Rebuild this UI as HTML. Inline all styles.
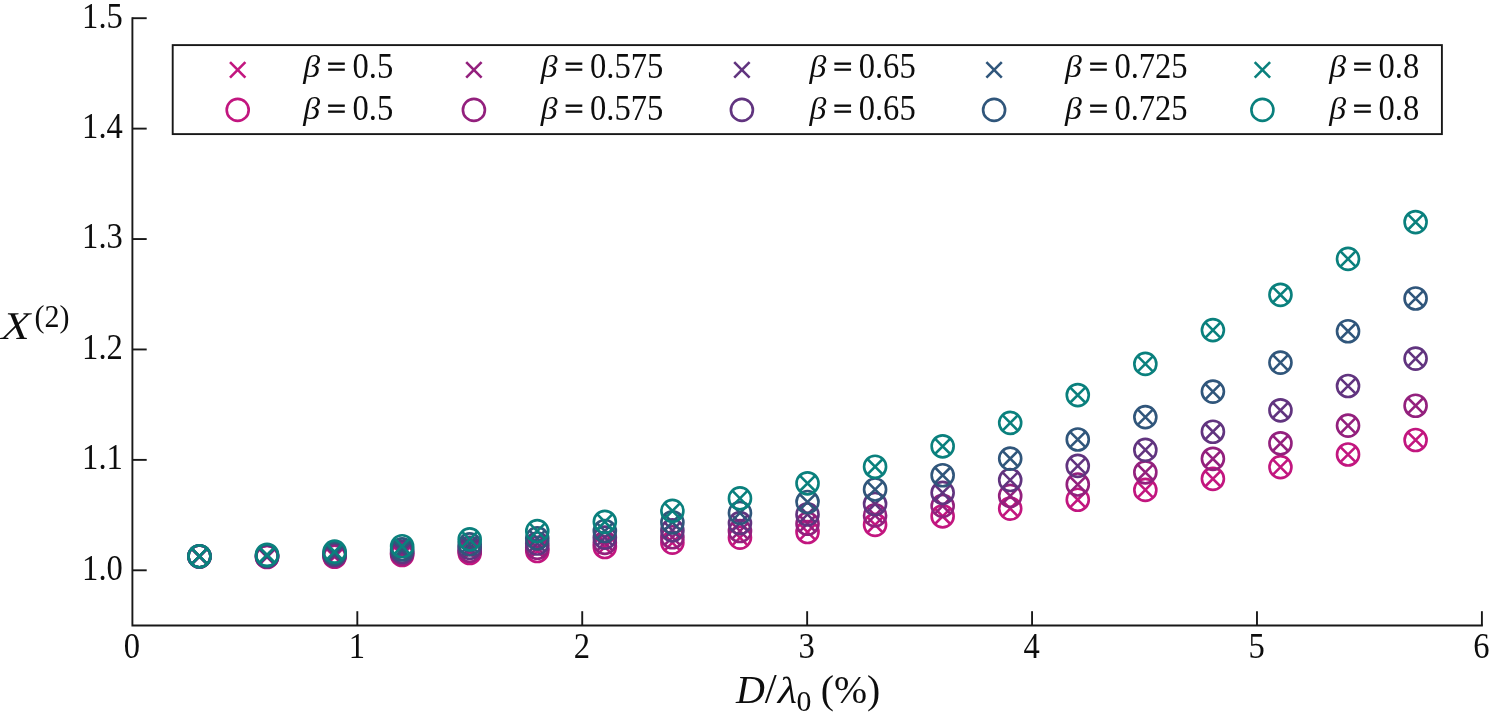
<!DOCTYPE html>
<html lang="en"><head><meta charset="utf-8"><title>X(2) versus D/λ0</title>
<style>
html,body{margin:0;padding:0;background:#fff;}
body{width:1490px;height:723px;overflow:hidden;}
svg{display:block;}
text{font-family:"Liberation Serif", serif;fill:#0d0d0d;}
</style></head><body>
<svg width="1490" height="723" viewBox="0 0 1490 723">
<rect width="1490" height="723" fill="#fff"/>
<g stroke="#181818" stroke-width="1.9" fill="none" stroke-linecap="butt">
<path d="M132.4 17.25V625.5H1482.85"/>
<path d="M132.4 18.20h14.3"/>
<path d="M132.4 128.62h14.3"/>
<path d="M132.4 239.04h14.3"/>
<path d="M132.4 349.46h14.3"/>
<path d="M132.4 459.88h14.3"/>
<path d="M132.4 570.30h14.3"/>
<path d="M357.32 625.5v-14.3"/>
<path d="M582.23 625.5v-14.3"/>
<path d="M807.15 625.5v-14.3"/>
<path d="M1032.07 625.5v-14.3"/>
<path d="M1256.98 625.5v-14.3"/>
<path d="M1481.90 625.5v-14.3"/>
</g>
<text transform="translate(122.80 27.60) scale(0.936 1)" font-size="34.8" text-anchor="end">1.5</text>
<text transform="translate(122.80 138.02) scale(0.936 1)" font-size="34.8" text-anchor="end">1.4</text>
<text transform="translate(122.80 248.44) scale(0.936 1)" font-size="34.8" text-anchor="end">1.3</text>
<text transform="translate(122.80 358.86) scale(0.936 1)" font-size="34.8" text-anchor="end">1.2</text>
<text transform="translate(122.80 469.28) scale(0.936 1)" font-size="34.8" text-anchor="end">1.1</text>
<text transform="translate(122.80 579.70) scale(0.936 1)" font-size="34.8" text-anchor="end">1.0</text>
<text transform="translate(132.00 658.40) scale(0.936 1)" font-size="34.8" text-anchor="middle">0</text>
<text transform="translate(356.92 658.40) scale(0.936 1)" font-size="34.8" text-anchor="middle">1</text>
<text transform="translate(581.83 658.40) scale(0.936 1)" font-size="34.8" text-anchor="middle">2</text>
<text transform="translate(806.75 658.40) scale(0.936 1)" font-size="34.8" text-anchor="middle">3</text>
<text transform="translate(1031.67 658.40) scale(0.936 1)" font-size="34.8" text-anchor="middle">4</text>
<text transform="translate(1256.58 658.40) scale(0.936 1)" font-size="34.8" text-anchor="middle">5</text>
<text transform="translate(1481.50 658.40) scale(0.936 1)" font-size="34.8" text-anchor="middle">6</text>
<text transform="translate(-0.9 339.4) skewX(-15)" font-size="39.4">X</text>
<text transform="translate(34.60 326.80) scale(0.985 1)" font-size="30.5">(2)</text>
<text transform="translate(736.00 702.60) scale(1.0 1)" font-size="40" font-style="italic">D</text>
<text transform="translate(764.8 702.9)" font-size="43">/</text>
<text transform="translate(775.6 702.6) skewX(-12) scale(1.12 1)" font-size="37.5">λ</text>
<text transform="translate(796.40 711.40) scale(1.0 1)" font-size="29.8">0</text>
<text transform="translate(820.80 702.60) scale(0.98 1)" font-size="40.5">(%)</text>
<rect x="172.7" y="45.1" width="1269.2" height="89.0" fill="#fff" stroke="#181818" stroke-width="1.9"/>
<path d="M230.00 62.20L245.40 77.60M230.00 77.60L245.40 62.20" stroke="#C2167F" stroke-width="2.6" fill="none"/>
<circle cx="237.70" cy="109.90" r="11.0" stroke="#C2167F" stroke-width="2.65" fill="none"/>
<text transform="translate(303.20 76.90) scale(1.09 1)" font-size="31" font-style="italic">β</text>
<text transform="translate(327.10 76.00) scale(1.24 1)" font-size="27" stroke="#0d0d0d" stroke-width="0.9">=</text>
<text transform="translate(352.50 78.00) scale(0.936 1)" font-size="34.8">0.5</text>
<text transform="translate(303.20 118.60) scale(1.09 1)" font-size="31" font-style="italic">β</text>
<text transform="translate(327.10 117.70) scale(1.24 1)" font-size="27" stroke="#0d0d0d" stroke-width="0.9">=</text>
<text transform="translate(352.50 119.70) scale(0.936 1)" font-size="34.8">0.5</text>
<path d="M466.20 62.20L481.60 77.60M466.20 77.60L481.60 62.20" stroke="#93207D" stroke-width="2.6" fill="none"/>
<circle cx="473.90" cy="109.90" r="11.0" stroke="#93207D" stroke-width="2.65" fill="none"/>
<text transform="translate(540.70 76.90) scale(1.09 1)" font-size="31" font-style="italic">β</text>
<text transform="translate(564.60 76.00) scale(1.24 1)" font-size="27" stroke="#0d0d0d" stroke-width="0.9">=</text>
<text transform="translate(590.00 78.00) scale(0.936 1)" font-size="34.8">0.575</text>
<text transform="translate(540.70 118.60) scale(1.09 1)" font-size="31" font-style="italic">β</text>
<text transform="translate(564.60 117.70) scale(1.24 1)" font-size="27" stroke="#0d0d0d" stroke-width="0.9">=</text>
<text transform="translate(590.00 119.70) scale(0.936 1)" font-size="34.8">0.575</text>
<path d="M734.20 62.20L749.60 77.60M734.20 77.60L749.60 62.20" stroke="#61347F" stroke-width="2.6" fill="none"/>
<circle cx="741.90" cy="109.90" r="11.0" stroke="#61347F" stroke-width="2.65" fill="none"/>
<text transform="translate(809.40 76.90) scale(1.09 1)" font-size="31" font-style="italic">β</text>
<text transform="translate(833.30 76.00) scale(1.24 1)" font-size="27" stroke="#0d0d0d" stroke-width="0.9">=</text>
<text transform="translate(858.70 78.00) scale(0.936 1)" font-size="34.8">0.65</text>
<text transform="translate(809.40 118.60) scale(1.09 1)" font-size="31" font-style="italic">β</text>
<text transform="translate(833.30 117.70) scale(1.24 1)" font-size="27" stroke="#0d0d0d" stroke-width="0.9">=</text>
<text transform="translate(858.70 119.70) scale(0.936 1)" font-size="34.8">0.65</text>
<path d="M986.40 62.20L1001.80 77.60M986.40 77.60L1001.80 62.20" stroke="#30567B" stroke-width="2.6" fill="none"/>
<circle cx="994.10" cy="109.90" r="11.0" stroke="#30567B" stroke-width="2.65" fill="none"/>
<text transform="translate(1065.10 76.90) scale(1.09 1)" font-size="31" font-style="italic">β</text>
<text transform="translate(1089.00 76.00) scale(1.24 1)" font-size="27" stroke="#0d0d0d" stroke-width="0.9">=</text>
<text transform="translate(1114.40 78.00) scale(0.936 1)" font-size="34.8">0.725</text>
<text transform="translate(1065.10 118.60) scale(1.09 1)" font-size="31" font-style="italic">β</text>
<text transform="translate(1089.00 117.70) scale(1.24 1)" font-size="27" stroke="#0d0d0d" stroke-width="0.9">=</text>
<text transform="translate(1114.40 119.70) scale(0.936 1)" font-size="34.8">0.725</text>
<path d="M1254.70 62.20L1270.10 77.60M1254.70 77.60L1270.10 62.20" stroke="#0A807D" stroke-width="2.6" fill="none"/>
<circle cx="1262.40" cy="109.90" r="11.0" stroke="#0A807D" stroke-width="2.65" fill="none"/>
<text transform="translate(1329.20 76.90) scale(1.09 1)" font-size="31" font-style="italic">β</text>
<text transform="translate(1353.10 76.00) scale(1.24 1)" font-size="27" stroke="#0d0d0d" stroke-width="0.9">=</text>
<text transform="translate(1378.50 78.00) scale(0.936 1)" font-size="34.8">0.8</text>
<text transform="translate(1329.20 118.60) scale(1.09 1)" font-size="31" font-style="italic">β</text>
<text transform="translate(1353.10 117.70) scale(1.24 1)" font-size="27" stroke="#0d0d0d" stroke-width="0.9">=</text>
<text transform="translate(1378.50 119.70) scale(0.936 1)" font-size="34.8">0.8</text>
<path d="M191.75 548.80L207.15 564.20M191.75 564.20L207.15 548.80" stroke="#C2167F" stroke-width="2.6" fill="none"/>
<path d="M259.32 549.30L274.72 564.70M259.32 564.70L274.72 549.30" stroke="#C2167F" stroke-width="2.6" fill="none"/>
<path d="M326.88 549.00L342.28 564.40M326.88 564.40L342.28 549.00" stroke="#C2167F" stroke-width="2.6" fill="none"/>
<path d="M394.44 547.30L409.84 562.70M394.44 562.70L409.84 547.30" stroke="#C2167F" stroke-width="2.6" fill="none"/>
<path d="M462.00 545.30L477.40 560.70M462.00 560.70L477.40 545.30" stroke="#C2167F" stroke-width="2.6" fill="none"/>
<path d="M529.57 543.30L544.97 558.70M529.57 558.70L544.97 543.30" stroke="#C2167F" stroke-width="2.6" fill="none"/>
<path d="M597.13 539.30L612.53 554.70M597.13 554.70L612.53 539.30" stroke="#C2167F" stroke-width="2.6" fill="none"/>
<path d="M664.69 534.90L680.09 550.30M664.69 550.30L680.09 534.90" stroke="#C2167F" stroke-width="2.6" fill="none"/>
<path d="M732.26 529.90L747.66 545.30M732.26 545.30L747.66 529.90" stroke="#C2167F" stroke-width="2.6" fill="none"/>
<path d="M799.82 524.30L815.22 539.70M799.82 539.70L815.22 524.30" stroke="#C2167F" stroke-width="2.6" fill="none"/>
<path d="M867.38 517.10L882.78 532.50M867.38 532.50L882.78 517.10" stroke="#C2167F" stroke-width="2.6" fill="none"/>
<path d="M934.95 508.60L950.35 524.00M934.95 524.00L950.35 508.60" stroke="#C2167F" stroke-width="2.6" fill="none"/>
<path d="M1002.51 500.90L1017.91 516.30M1002.51 516.30L1017.91 500.90" stroke="#C2167F" stroke-width="2.6" fill="none"/>
<path d="M1070.07 492.00L1085.47 507.40M1070.07 507.40L1085.47 492.00" stroke="#C2167F" stroke-width="2.6" fill="none"/>
<path d="M1137.63 482.20L1153.04 497.60M1137.63 497.60L1153.04 482.20" stroke="#C2167F" stroke-width="2.6" fill="none"/>
<path d="M1205.20 471.10L1220.60 486.50M1205.20 486.50L1220.60 471.10" stroke="#C2167F" stroke-width="2.6" fill="none"/>
<path d="M1272.76 459.40L1288.16 474.80M1272.76 474.80L1288.16 459.40" stroke="#C2167F" stroke-width="2.6" fill="none"/>
<path d="M1340.32 446.80L1355.72 462.20M1340.32 462.20L1355.72 446.80" stroke="#C2167F" stroke-width="2.6" fill="none"/>
<path d="M1407.89 432.30L1423.29 447.70M1407.89 447.70L1423.29 432.30" stroke="#C2167F" stroke-width="2.6" fill="none"/>
<circle cx="199.45" cy="556.50" r="11.0" stroke="#C2167F" stroke-width="2.65" fill="none"/>
<circle cx="267.02" cy="557.00" r="11.0" stroke="#C2167F" stroke-width="2.65" fill="none"/>
<circle cx="334.58" cy="556.70" r="11.0" stroke="#C2167F" stroke-width="2.65" fill="none"/>
<circle cx="402.14" cy="555.00" r="11.0" stroke="#C2167F" stroke-width="2.65" fill="none"/>
<circle cx="469.70" cy="553.00" r="11.0" stroke="#C2167F" stroke-width="2.65" fill="none"/>
<circle cx="537.27" cy="551.00" r="11.0" stroke="#C2167F" stroke-width="2.65" fill="none"/>
<circle cx="604.83" cy="547.00" r="11.0" stroke="#C2167F" stroke-width="2.65" fill="none"/>
<circle cx="672.39" cy="542.60" r="11.0" stroke="#C2167F" stroke-width="2.65" fill="none"/>
<circle cx="739.96" cy="537.60" r="11.0" stroke="#C2167F" stroke-width="2.65" fill="none"/>
<circle cx="807.52" cy="532.00" r="11.0" stroke="#C2167F" stroke-width="2.65" fill="none"/>
<circle cx="875.08" cy="524.80" r="11.0" stroke="#C2167F" stroke-width="2.65" fill="none"/>
<circle cx="942.65" cy="516.30" r="11.0" stroke="#C2167F" stroke-width="2.65" fill="none"/>
<circle cx="1010.21" cy="508.60" r="11.0" stroke="#C2167F" stroke-width="2.65" fill="none"/>
<circle cx="1077.77" cy="499.70" r="11.0" stroke="#C2167F" stroke-width="2.65" fill="none"/>
<circle cx="1145.34" cy="489.90" r="11.0" stroke="#C2167F" stroke-width="2.65" fill="none"/>
<circle cx="1212.90" cy="478.80" r="11.0" stroke="#C2167F" stroke-width="2.65" fill="none"/>
<circle cx="1280.46" cy="467.10" r="11.0" stroke="#C2167F" stroke-width="2.65" fill="none"/>
<circle cx="1348.02" cy="454.50" r="11.0" stroke="#C2167F" stroke-width="2.65" fill="none"/>
<circle cx="1415.59" cy="440.00" r="11.0" stroke="#C2167F" stroke-width="2.65" fill="none"/>
<path d="M191.75 548.75L207.15 564.15M191.75 564.15L207.15 548.75" stroke="#93207D" stroke-width="2.6" fill="none"/>
<path d="M259.32 548.94L274.72 564.34M259.32 564.34L274.72 548.94" stroke="#93207D" stroke-width="2.6" fill="none"/>
<path d="M326.88 548.16L342.28 563.56M326.88 563.56L342.28 548.16" stroke="#93207D" stroke-width="2.6" fill="none"/>
<path d="M394.44 545.85L409.84 561.25M394.44 561.25L409.84 545.85" stroke="#93207D" stroke-width="2.6" fill="none"/>
<path d="M462.00 543.06L477.40 558.46M462.00 558.46L477.40 543.06" stroke="#93207D" stroke-width="2.6" fill="none"/>
<path d="M529.57 540.02L544.97 555.42M529.57 555.42L544.97 540.02" stroke="#93207D" stroke-width="2.6" fill="none"/>
<path d="M597.13 535.14L612.53 550.54M597.13 550.54L612.53 535.14" stroke="#93207D" stroke-width="2.6" fill="none"/>
<path d="M664.69 529.50L680.09 544.90M664.69 544.90L680.09 529.50" stroke="#93207D" stroke-width="2.6" fill="none"/>
<path d="M732.26 523.30L747.66 538.70M732.26 538.70L747.66 523.30" stroke="#93207D" stroke-width="2.6" fill="none"/>
<path d="M799.82 516.00L815.22 531.40M799.82 531.40L815.22 516.00" stroke="#93207D" stroke-width="2.6" fill="none"/>
<path d="M867.38 507.70L882.78 523.10M867.38 523.10L882.78 507.70" stroke="#93207D" stroke-width="2.6" fill="none"/>
<path d="M934.95 498.20L950.35 513.60M934.95 513.60L950.35 498.20" stroke="#93207D" stroke-width="2.6" fill="none"/>
<path d="M1002.51 488.20L1017.91 503.60M1002.51 503.60L1017.91 488.20" stroke="#93207D" stroke-width="2.6" fill="none"/>
<path d="M1070.07 476.80L1085.47 492.20M1070.07 492.20L1085.47 476.80" stroke="#93207D" stroke-width="2.6" fill="none"/>
<path d="M1137.63 464.60L1153.04 480.00M1137.63 480.00L1153.04 464.60" stroke="#93207D" stroke-width="2.6" fill="none"/>
<path d="M1205.20 451.10L1220.60 466.50M1205.20 466.50L1220.60 451.10" stroke="#93207D" stroke-width="2.6" fill="none"/>
<path d="M1272.76 435.60L1288.16 451.00M1272.76 451.00L1288.16 435.60" stroke="#93207D" stroke-width="2.6" fill="none"/>
<path d="M1340.32 417.90L1355.72 433.30M1340.32 433.30L1355.72 417.90" stroke="#93207D" stroke-width="2.6" fill="none"/>
<path d="M1407.89 398.00L1423.29 413.40M1407.89 413.40L1423.29 398.00" stroke="#93207D" stroke-width="2.6" fill="none"/>
<circle cx="199.45" cy="556.45" r="11.0" stroke="#93207D" stroke-width="2.65" fill="none"/>
<circle cx="267.02" cy="556.64" r="11.0" stroke="#93207D" stroke-width="2.65" fill="none"/>
<circle cx="334.58" cy="555.86" r="11.0" stroke="#93207D" stroke-width="2.65" fill="none"/>
<circle cx="402.14" cy="553.55" r="11.0" stroke="#93207D" stroke-width="2.65" fill="none"/>
<circle cx="469.70" cy="550.76" r="11.0" stroke="#93207D" stroke-width="2.65" fill="none"/>
<circle cx="537.27" cy="547.72" r="11.0" stroke="#93207D" stroke-width="2.65" fill="none"/>
<circle cx="604.83" cy="542.84" r="11.0" stroke="#93207D" stroke-width="2.65" fill="none"/>
<circle cx="672.39" cy="537.20" r="11.0" stroke="#93207D" stroke-width="2.65" fill="none"/>
<circle cx="739.96" cy="531.00" r="11.0" stroke="#93207D" stroke-width="2.65" fill="none"/>
<circle cx="807.52" cy="523.70" r="11.0" stroke="#93207D" stroke-width="2.65" fill="none"/>
<circle cx="875.08" cy="515.40" r="11.0" stroke="#93207D" stroke-width="2.65" fill="none"/>
<circle cx="942.65" cy="505.90" r="11.0" stroke="#93207D" stroke-width="2.65" fill="none"/>
<circle cx="1010.21" cy="495.90" r="11.0" stroke="#93207D" stroke-width="2.65" fill="none"/>
<circle cx="1077.77" cy="484.50" r="11.0" stroke="#93207D" stroke-width="2.65" fill="none"/>
<circle cx="1145.34" cy="472.30" r="11.0" stroke="#93207D" stroke-width="2.65" fill="none"/>
<circle cx="1212.90" cy="458.80" r="11.0" stroke="#93207D" stroke-width="2.65" fill="none"/>
<circle cx="1280.46" cy="443.30" r="11.0" stroke="#93207D" stroke-width="2.65" fill="none"/>
<circle cx="1348.02" cy="425.60" r="11.0" stroke="#93207D" stroke-width="2.65" fill="none"/>
<circle cx="1415.59" cy="405.70" r="11.0" stroke="#93207D" stroke-width="2.65" fill="none"/>
<path d="M191.75 548.69L207.15 564.09M191.75 564.09L207.15 548.69" stroke="#61347F" stroke-width="2.6" fill="none"/>
<path d="M259.32 548.47L274.72 563.88M259.32 563.88L274.72 548.47" stroke="#61347F" stroke-width="2.6" fill="none"/>
<path d="M326.88 547.09L342.28 562.49M326.88 562.49L342.28 547.09" stroke="#61347F" stroke-width="2.6" fill="none"/>
<path d="M394.44 544.00L409.84 559.40M394.44 559.40L409.84 544.00" stroke="#61347F" stroke-width="2.6" fill="none"/>
<path d="M462.00 540.20L477.40 555.60M462.00 555.60L477.40 540.20" stroke="#61347F" stroke-width="2.6" fill="none"/>
<path d="M529.57 535.84L544.97 551.24M529.57 551.24L544.97 535.84" stroke="#61347F" stroke-width="2.6" fill="none"/>
<path d="M597.13 529.85L612.53 545.25M597.13 545.25L612.53 529.85" stroke="#61347F" stroke-width="2.6" fill="none"/>
<path d="M664.69 522.70L680.09 538.10M664.69 538.10L680.09 522.70" stroke="#61347F" stroke-width="2.6" fill="none"/>
<path d="M732.26 515.40L747.66 530.80M732.26 530.80L747.66 515.40" stroke="#61347F" stroke-width="2.6" fill="none"/>
<path d="M799.82 506.70L815.22 522.10M799.82 522.10L815.22 506.70" stroke="#61347F" stroke-width="2.6" fill="none"/>
<path d="M867.38 496.30L882.78 511.70M867.38 511.70L882.78 496.30" stroke="#61347F" stroke-width="2.6" fill="none"/>
<path d="M934.95 485.10L950.35 500.50M934.95 500.50L950.35 485.10" stroke="#61347F" stroke-width="2.6" fill="none"/>
<path d="M1002.51 472.30L1017.91 487.70M1002.51 487.70L1017.91 472.30" stroke="#61347F" stroke-width="2.6" fill="none"/>
<path d="M1070.07 458.20L1085.47 473.60M1070.07 473.60L1085.47 458.20" stroke="#61347F" stroke-width="2.6" fill="none"/>
<path d="M1137.63 442.20L1153.04 457.60M1137.63 457.60L1153.04 442.20" stroke="#61347F" stroke-width="2.6" fill="none"/>
<path d="M1205.20 424.00L1220.60 439.40M1205.20 439.40L1220.60 424.00" stroke="#61347F" stroke-width="2.6" fill="none"/>
<path d="M1272.76 402.60L1288.16 418.00M1272.76 418.00L1288.16 402.60" stroke="#61347F" stroke-width="2.6" fill="none"/>
<path d="M1340.32 378.30L1355.72 393.70M1340.32 393.70L1355.72 378.30" stroke="#61347F" stroke-width="2.6" fill="none"/>
<path d="M1407.89 350.90L1423.29 366.30M1407.89 366.30L1423.29 350.90" stroke="#61347F" stroke-width="2.6" fill="none"/>
<circle cx="199.45" cy="556.39" r="11.0" stroke="#61347F" stroke-width="2.65" fill="none"/>
<circle cx="267.02" cy="556.17" r="11.0" stroke="#61347F" stroke-width="2.65" fill="none"/>
<circle cx="334.58" cy="554.79" r="11.0" stroke="#61347F" stroke-width="2.65" fill="none"/>
<circle cx="402.14" cy="551.70" r="11.0" stroke="#61347F" stroke-width="2.65" fill="none"/>
<circle cx="469.70" cy="547.90" r="11.0" stroke="#61347F" stroke-width="2.65" fill="none"/>
<circle cx="537.27" cy="543.54" r="11.0" stroke="#61347F" stroke-width="2.65" fill="none"/>
<circle cx="604.83" cy="537.55" r="11.0" stroke="#61347F" stroke-width="2.65" fill="none"/>
<circle cx="672.39" cy="530.40" r="11.0" stroke="#61347F" stroke-width="2.65" fill="none"/>
<circle cx="739.96" cy="523.10" r="11.0" stroke="#61347F" stroke-width="2.65" fill="none"/>
<circle cx="807.52" cy="514.40" r="11.0" stroke="#61347F" stroke-width="2.65" fill="none"/>
<circle cx="875.08" cy="504.00" r="11.0" stroke="#61347F" stroke-width="2.65" fill="none"/>
<circle cx="942.65" cy="492.80" r="11.0" stroke="#61347F" stroke-width="2.65" fill="none"/>
<circle cx="1010.21" cy="480.00" r="11.0" stroke="#61347F" stroke-width="2.65" fill="none"/>
<circle cx="1077.77" cy="465.90" r="11.0" stroke="#61347F" stroke-width="2.65" fill="none"/>
<circle cx="1145.34" cy="449.90" r="11.0" stroke="#61347F" stroke-width="2.65" fill="none"/>
<circle cx="1212.90" cy="431.70" r="11.0" stroke="#61347F" stroke-width="2.65" fill="none"/>
<circle cx="1280.46" cy="410.30" r="11.0" stroke="#61347F" stroke-width="2.65" fill="none"/>
<circle cx="1348.02" cy="386.00" r="11.0" stroke="#61347F" stroke-width="2.65" fill="none"/>
<circle cx="1415.59" cy="358.60" r="11.0" stroke="#61347F" stroke-width="2.65" fill="none"/>
<path d="M191.75 548.61L207.15 564.01M191.75 564.01L207.15 548.61" stroke="#30567B" stroke-width="2.6" fill="none"/>
<path d="M259.32 547.90L274.72 563.30M259.32 563.30L274.72 547.90" stroke="#30567B" stroke-width="2.6" fill="none"/>
<path d="M326.88 545.76L342.28 561.16M326.88 561.16L342.28 545.76" stroke="#30567B" stroke-width="2.6" fill="none"/>
<path d="M394.44 541.71L409.84 557.11M394.44 557.11L409.84 541.71" stroke="#30567B" stroke-width="2.6" fill="none"/>
<path d="M462.00 536.66L477.40 552.06M462.00 552.06L477.40 536.66" stroke="#30567B" stroke-width="2.6" fill="none"/>
<path d="M529.57 530.66L544.97 546.06M529.57 546.06L544.97 530.66" stroke="#30567B" stroke-width="2.6" fill="none"/>
<path d="M597.13 523.30L612.53 538.70M597.13 538.70L612.53 523.30" stroke="#30567B" stroke-width="2.6" fill="none"/>
<path d="M664.69 514.60L680.09 530.00M664.69 530.00L680.09 514.60" stroke="#30567B" stroke-width="2.6" fill="none"/>
<path d="M732.26 505.20L747.66 520.60M732.26 520.60L747.66 505.20" stroke="#30567B" stroke-width="2.6" fill="none"/>
<path d="M799.82 494.30L815.22 509.70M799.82 509.70L815.22 494.30" stroke="#30567B" stroke-width="2.6" fill="none"/>
<path d="M867.38 481.80L882.78 497.20M867.38 497.20L882.78 481.80" stroke="#30567B" stroke-width="2.6" fill="none"/>
<path d="M934.95 467.50L950.35 482.90M934.95 482.90L950.35 467.50" stroke="#30567B" stroke-width="2.6" fill="none"/>
<path d="M1002.51 450.90L1017.91 466.30M1002.51 466.30L1017.91 450.90" stroke="#30567B" stroke-width="2.6" fill="none"/>
<path d="M1070.07 431.80L1085.47 447.20M1070.07 447.20L1085.47 431.80" stroke="#30567B" stroke-width="2.6" fill="none"/>
<path d="M1137.63 409.40L1153.04 424.80M1137.63 424.80L1153.04 409.40" stroke="#30567B" stroke-width="2.6" fill="none"/>
<path d="M1205.20 383.90L1220.60 399.30M1205.20 399.30L1220.60 383.90" stroke="#30567B" stroke-width="2.6" fill="none"/>
<path d="M1272.76 354.90L1288.16 370.30M1272.76 370.30L1288.16 354.90" stroke="#30567B" stroke-width="2.6" fill="none"/>
<path d="M1340.32 323.50L1355.72 338.90M1340.32 338.90L1355.72 323.50" stroke="#30567B" stroke-width="2.6" fill="none"/>
<path d="M1407.89 290.80L1423.29 306.20M1407.89 306.20L1423.29 290.80" stroke="#30567B" stroke-width="2.6" fill="none"/>
<circle cx="199.45" cy="556.31" r="11.0" stroke="#30567B" stroke-width="2.65" fill="none"/>
<circle cx="267.02" cy="555.60" r="11.0" stroke="#30567B" stroke-width="2.65" fill="none"/>
<circle cx="334.58" cy="553.46" r="11.0" stroke="#30567B" stroke-width="2.65" fill="none"/>
<circle cx="402.14" cy="549.41" r="11.0" stroke="#30567B" stroke-width="2.65" fill="none"/>
<circle cx="469.70" cy="544.36" r="11.0" stroke="#30567B" stroke-width="2.65" fill="none"/>
<circle cx="537.27" cy="538.36" r="11.0" stroke="#30567B" stroke-width="2.65" fill="none"/>
<circle cx="604.83" cy="531.00" r="11.0" stroke="#30567B" stroke-width="2.65" fill="none"/>
<circle cx="672.39" cy="522.30" r="11.0" stroke="#30567B" stroke-width="2.65" fill="none"/>
<circle cx="739.96" cy="512.90" r="11.0" stroke="#30567B" stroke-width="2.65" fill="none"/>
<circle cx="807.52" cy="502.00" r="11.0" stroke="#30567B" stroke-width="2.65" fill="none"/>
<circle cx="875.08" cy="489.50" r="11.0" stroke="#30567B" stroke-width="2.65" fill="none"/>
<circle cx="942.65" cy="475.20" r="11.0" stroke="#30567B" stroke-width="2.65" fill="none"/>
<circle cx="1010.21" cy="458.60" r="11.0" stroke="#30567B" stroke-width="2.65" fill="none"/>
<circle cx="1077.77" cy="439.50" r="11.0" stroke="#30567B" stroke-width="2.65" fill="none"/>
<circle cx="1145.34" cy="417.10" r="11.0" stroke="#30567B" stroke-width="2.65" fill="none"/>
<circle cx="1212.90" cy="391.60" r="11.0" stroke="#30567B" stroke-width="2.65" fill="none"/>
<circle cx="1280.46" cy="362.60" r="11.0" stroke="#30567B" stroke-width="2.65" fill="none"/>
<circle cx="1348.02" cy="331.20" r="11.0" stroke="#30567B" stroke-width="2.65" fill="none"/>
<circle cx="1415.59" cy="298.50" r="11.0" stroke="#30567B" stroke-width="2.65" fill="none"/>
<path d="M191.75 548.50L207.15 563.90M191.75 563.90L207.15 548.50" stroke="#0A807D" stroke-width="2.6" fill="none"/>
<path d="M259.32 547.10L274.72 562.50M259.32 562.50L274.72 547.10" stroke="#0A807D" stroke-width="2.6" fill="none"/>
<path d="M326.88 543.90L342.28 559.30M326.88 559.30L342.28 543.90" stroke="#0A807D" stroke-width="2.6" fill="none"/>
<path d="M394.44 538.50L409.84 553.90M394.44 553.90L409.84 538.50" stroke="#0A807D" stroke-width="2.6" fill="none"/>
<path d="M462.00 531.70L477.40 547.10M462.00 547.10L477.40 531.70" stroke="#0A807D" stroke-width="2.6" fill="none"/>
<path d="M529.57 523.40L544.97 538.80M529.57 538.80L544.97 523.40" stroke="#0A807D" stroke-width="2.6" fill="none"/>
<path d="M597.13 514.10L612.53 529.50M597.13 529.50L612.53 514.10" stroke="#0A807D" stroke-width="2.6" fill="none"/>
<path d="M664.69 503.20L680.09 518.60M664.69 518.60L680.09 503.20" stroke="#0A807D" stroke-width="2.6" fill="none"/>
<path d="M732.26 490.70L747.66 506.10M732.26 506.10L747.66 490.70" stroke="#0A807D" stroke-width="2.6" fill="none"/>
<path d="M799.82 475.60L815.22 491.00M799.82 491.00L815.22 475.60" stroke="#0A807D" stroke-width="2.6" fill="none"/>
<path d="M867.38 459.00L882.78 474.40M867.38 474.40L882.78 459.00" stroke="#0A807D" stroke-width="2.6" fill="none"/>
<path d="M934.95 438.60L950.35 454.00M934.95 454.00L950.35 438.60" stroke="#0A807D" stroke-width="2.6" fill="none"/>
<path d="M1002.51 415.15L1017.91 430.55M1002.51 430.55L1017.91 415.15" stroke="#0A807D" stroke-width="2.6" fill="none"/>
<path d="M1070.07 387.35L1085.47 402.75M1070.07 402.75L1085.47 387.35" stroke="#0A807D" stroke-width="2.6" fill="none"/>
<path d="M1137.63 356.20L1153.04 371.60M1137.63 371.60L1153.04 356.20" stroke="#0A807D" stroke-width="2.6" fill="none"/>
<path d="M1205.20 322.40L1220.60 337.80M1205.20 337.80L1220.60 322.40" stroke="#0A807D" stroke-width="2.6" fill="none"/>
<path d="M1272.76 287.10L1288.16 302.50M1272.76 302.50L1288.16 287.10" stroke="#0A807D" stroke-width="2.6" fill="none"/>
<path d="M1340.32 251.20L1355.72 266.60M1340.32 266.60L1355.72 251.20" stroke="#0A807D" stroke-width="2.6" fill="none"/>
<path d="M1407.89 214.35L1423.29 229.75M1407.89 229.75L1423.29 214.35" stroke="#0A807D" stroke-width="2.6" fill="none"/>
<circle cx="199.45" cy="556.20" r="11.0" stroke="#0A807D" stroke-width="2.65" fill="none"/>
<circle cx="267.02" cy="554.80" r="11.0" stroke="#0A807D" stroke-width="2.65" fill="none"/>
<circle cx="334.58" cy="551.60" r="11.0" stroke="#0A807D" stroke-width="2.65" fill="none"/>
<circle cx="402.14" cy="546.20" r="11.0" stroke="#0A807D" stroke-width="2.65" fill="none"/>
<circle cx="469.70" cy="539.40" r="11.0" stroke="#0A807D" stroke-width="2.65" fill="none"/>
<circle cx="537.27" cy="531.10" r="11.0" stroke="#0A807D" stroke-width="2.65" fill="none"/>
<circle cx="604.83" cy="521.80" r="11.0" stroke="#0A807D" stroke-width="2.65" fill="none"/>
<circle cx="672.39" cy="510.90" r="11.0" stroke="#0A807D" stroke-width="2.65" fill="none"/>
<circle cx="739.96" cy="498.40" r="11.0" stroke="#0A807D" stroke-width="2.65" fill="none"/>
<circle cx="807.52" cy="483.30" r="11.0" stroke="#0A807D" stroke-width="2.65" fill="none"/>
<circle cx="875.08" cy="466.70" r="11.0" stroke="#0A807D" stroke-width="2.65" fill="none"/>
<circle cx="942.65" cy="446.30" r="11.0" stroke="#0A807D" stroke-width="2.65" fill="none"/>
<circle cx="1010.21" cy="422.85" r="11.0" stroke="#0A807D" stroke-width="2.65" fill="none"/>
<circle cx="1077.77" cy="395.05" r="11.0" stroke="#0A807D" stroke-width="2.65" fill="none"/>
<circle cx="1145.34" cy="363.90" r="11.0" stroke="#0A807D" stroke-width="2.65" fill="none"/>
<circle cx="1212.90" cy="330.10" r="11.0" stroke="#0A807D" stroke-width="2.65" fill="none"/>
<circle cx="1280.46" cy="294.80" r="11.0" stroke="#0A807D" stroke-width="2.65" fill="none"/>
<circle cx="1348.02" cy="258.90" r="11.0" stroke="#0A807D" stroke-width="2.65" fill="none"/>
<circle cx="1415.59" cy="222.05" r="11.0" stroke="#0A807D" stroke-width="2.65" fill="none"/>
</svg></body></html>
